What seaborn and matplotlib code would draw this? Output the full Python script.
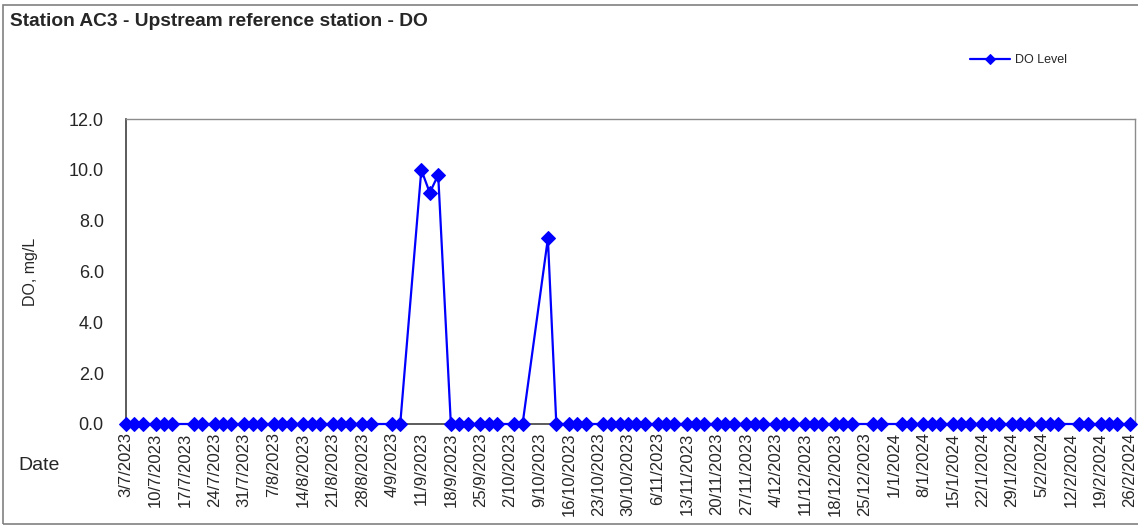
import matplotlib
matplotlib.use("Agg")
import matplotlib.pyplot as plt
from matplotlib.patches import Rectangle
import seaborn as sns
import pandas as pd

# ---- data ----
sample_dates = [
    "3/7/2023", "5/7/2023", "7/7/2023", "10/7/2023", "12/7/2023", "14/7/2023",
    "19/7/2023", "21/7/2023", "24/7/2023", "26/7/2023", "28/7/2023",
    "31/7/2023", "2/8/2023", "4/8/2023", "7/8/2023", "9/8/2023", "11/8/2023",
    "14/8/2023", "16/8/2023", "18/8/2023", "21/8/2023", "23/8/2023", "25/8/2023",
    "28/8/2023", "30/8/2023", "4/9/2023", "6/9/2023",
    "11/9/2023", "13/9/2023", "15/9/2023", "18/9/2023", "20/9/2023", "22/9/2023",
    "25/9/2023", "27/9/2023", "29/9/2023", "3/10/2023", "5/10/2023",
    "11/10/2023", "13/10/2023", "16/10/2023", "18/10/2023", "20/10/2023",
    "24/10/2023", "26/10/2023", "28/10/2023", "30/10/2023", "1/11/2023", "3/11/2023",
    "6/11/2023", "8/11/2023", "10/11/2023", "13/11/2023", "15/11/2023", "17/11/2023",
    "20/11/2023", "22/11/2023", "24/11/2023", "27/11/2023", "29/11/2023", "1/12/2023",
    "4/12/2023", "6/12/2023", "8/12/2023", "11/12/2023", "13/12/2023", "15/12/2023",
    "18/12/2023", "20/12/2023", "22/12/2023", "27/12/2023", "29/12/2023",
    "3/1/2024", "5/1/2024", "8/1/2024", "10/1/2024", "12/1/2024",
    "15/1/2024", "17/1/2024", "19/1/2024", "22/1/2024", "24/1/2024", "26/1/2024",
    "29/1/2024", "31/1/2024", "2/2/2024", "5/2/2024", "7/2/2024", "9/2/2024",
    "14/2/2024", "16/2/2024", "19/2/2024", "21/2/2024", "23/2/2024", "26/2/2024",
]
peak_values = {"11/9/2023": 10.0, "13/9/2023": 9.1, "15/9/2023": 9.8, "11/10/2023": 7.3}
do_level = [peak_values.get(d, 0.0) for d in sample_dates]

y_ticks = [0.0, 2.0, 4.0, 6.0, 8.0, 10.0, 12.0]
x_start = "3/7/2023"
x_end = "26/2/2024"

title = "Station AC3 - Upstream reference station - DO"
series_name = "DO Level"

# ---- build frame ----
df = pd.DataFrame({
    "Date": pd.to_datetime(sample_dates, format="%d/%m/%Y"),
    "DO": do_level,
})

sns.set_style("white")
plt.rcParams["font.family"] = ["Liberation Sans", "DejaVu Sans"]

W, H = 1138, 525
fig = plt.figure(figsize=(W / 100, H / 100), dpi=100)
ax = fig.add_axes([126 / W, 1 - 424 / H, (1135 - 126) / W, (424 - 119) / H])

sns.lineplot(data=df, x="Date", y="DO", ax=ax, color="#0000FF", marker="D",
             markersize=7, markeredgecolor="#0000FF", linewidth=1.6,
             label=series_name, clip_on=False, zorder=3)

xs = pd.to_datetime(x_start, format="%d/%m/%Y")
xe = pd.to_datetime(x_end, format="%d/%m/%Y")
ax.set_xlim(xs, xe + pd.Timedelta(hours=28))
ax.set_ylim(0, 12)
ax.set_yticks(y_ticks)
ax.set_yticklabels([f"{v:.1f}" for v in y_ticks], fontsize=13)

week_ticks = pd.date_range(xs, xe, freq="7D")
ax.set_xticks(week_ticks)
ax.set_xticklabels([f"{d.day}/{d.month}/{d.year}" for d in week_ticks],
                   rotation=90, fontsize=12)

ax.set_xlabel("")
ax.set_ylabel("DO, mg/L", fontsize=11.5)
ax.yaxis.set_label_coords(31 / W, 1 - 271.5 / H, transform=fig.transFigure)
ax.yaxis.label.set_verticalalignment("center")

for s in ["left", "bottom"]:
    ax.spines[s].set_color("#404040")
    ax.spines[s].set_linewidth(1.2)
for s in ["top", "right"]:
    ax.spines[s].set_color("#8c8c8c")
    ax.spines[s].set_linewidth(1.0)
ax.tick_params(axis="x", direction="in", length=4, color="#404040", pad=6)
ax.tick_params(axis="y", direction="out", length=4, color="#404040", pad=12)
ax.grid(False)

leg = ax.legend(loc="center left", bbox_to_anchor=(959 / W, 1 - 60 / H),
                bbox_transform=fig.transFigure, frameon=False, fontsize=9,
                handlelength=3.2, handletextpad=0.4, markerscale=0.7)

fig.text(10 / W, 1 - 22 / H, title, fontsize=13.8, fontweight="bold",
         va="center", ha="left")
fig.text(39 / W, 1 - 466 / H, "Date", fontsize=14, va="center", ha="center")

fig.patches.append(Rectangle((3 / W, 1 / H), (1150 - 3) / W, (520 - 1) / H,
                             transform=fig.transFigure, fill=False,
                             edgecolor="#808080", linewidth=1.2))

fig.savefig("out.png", dpi=100)
